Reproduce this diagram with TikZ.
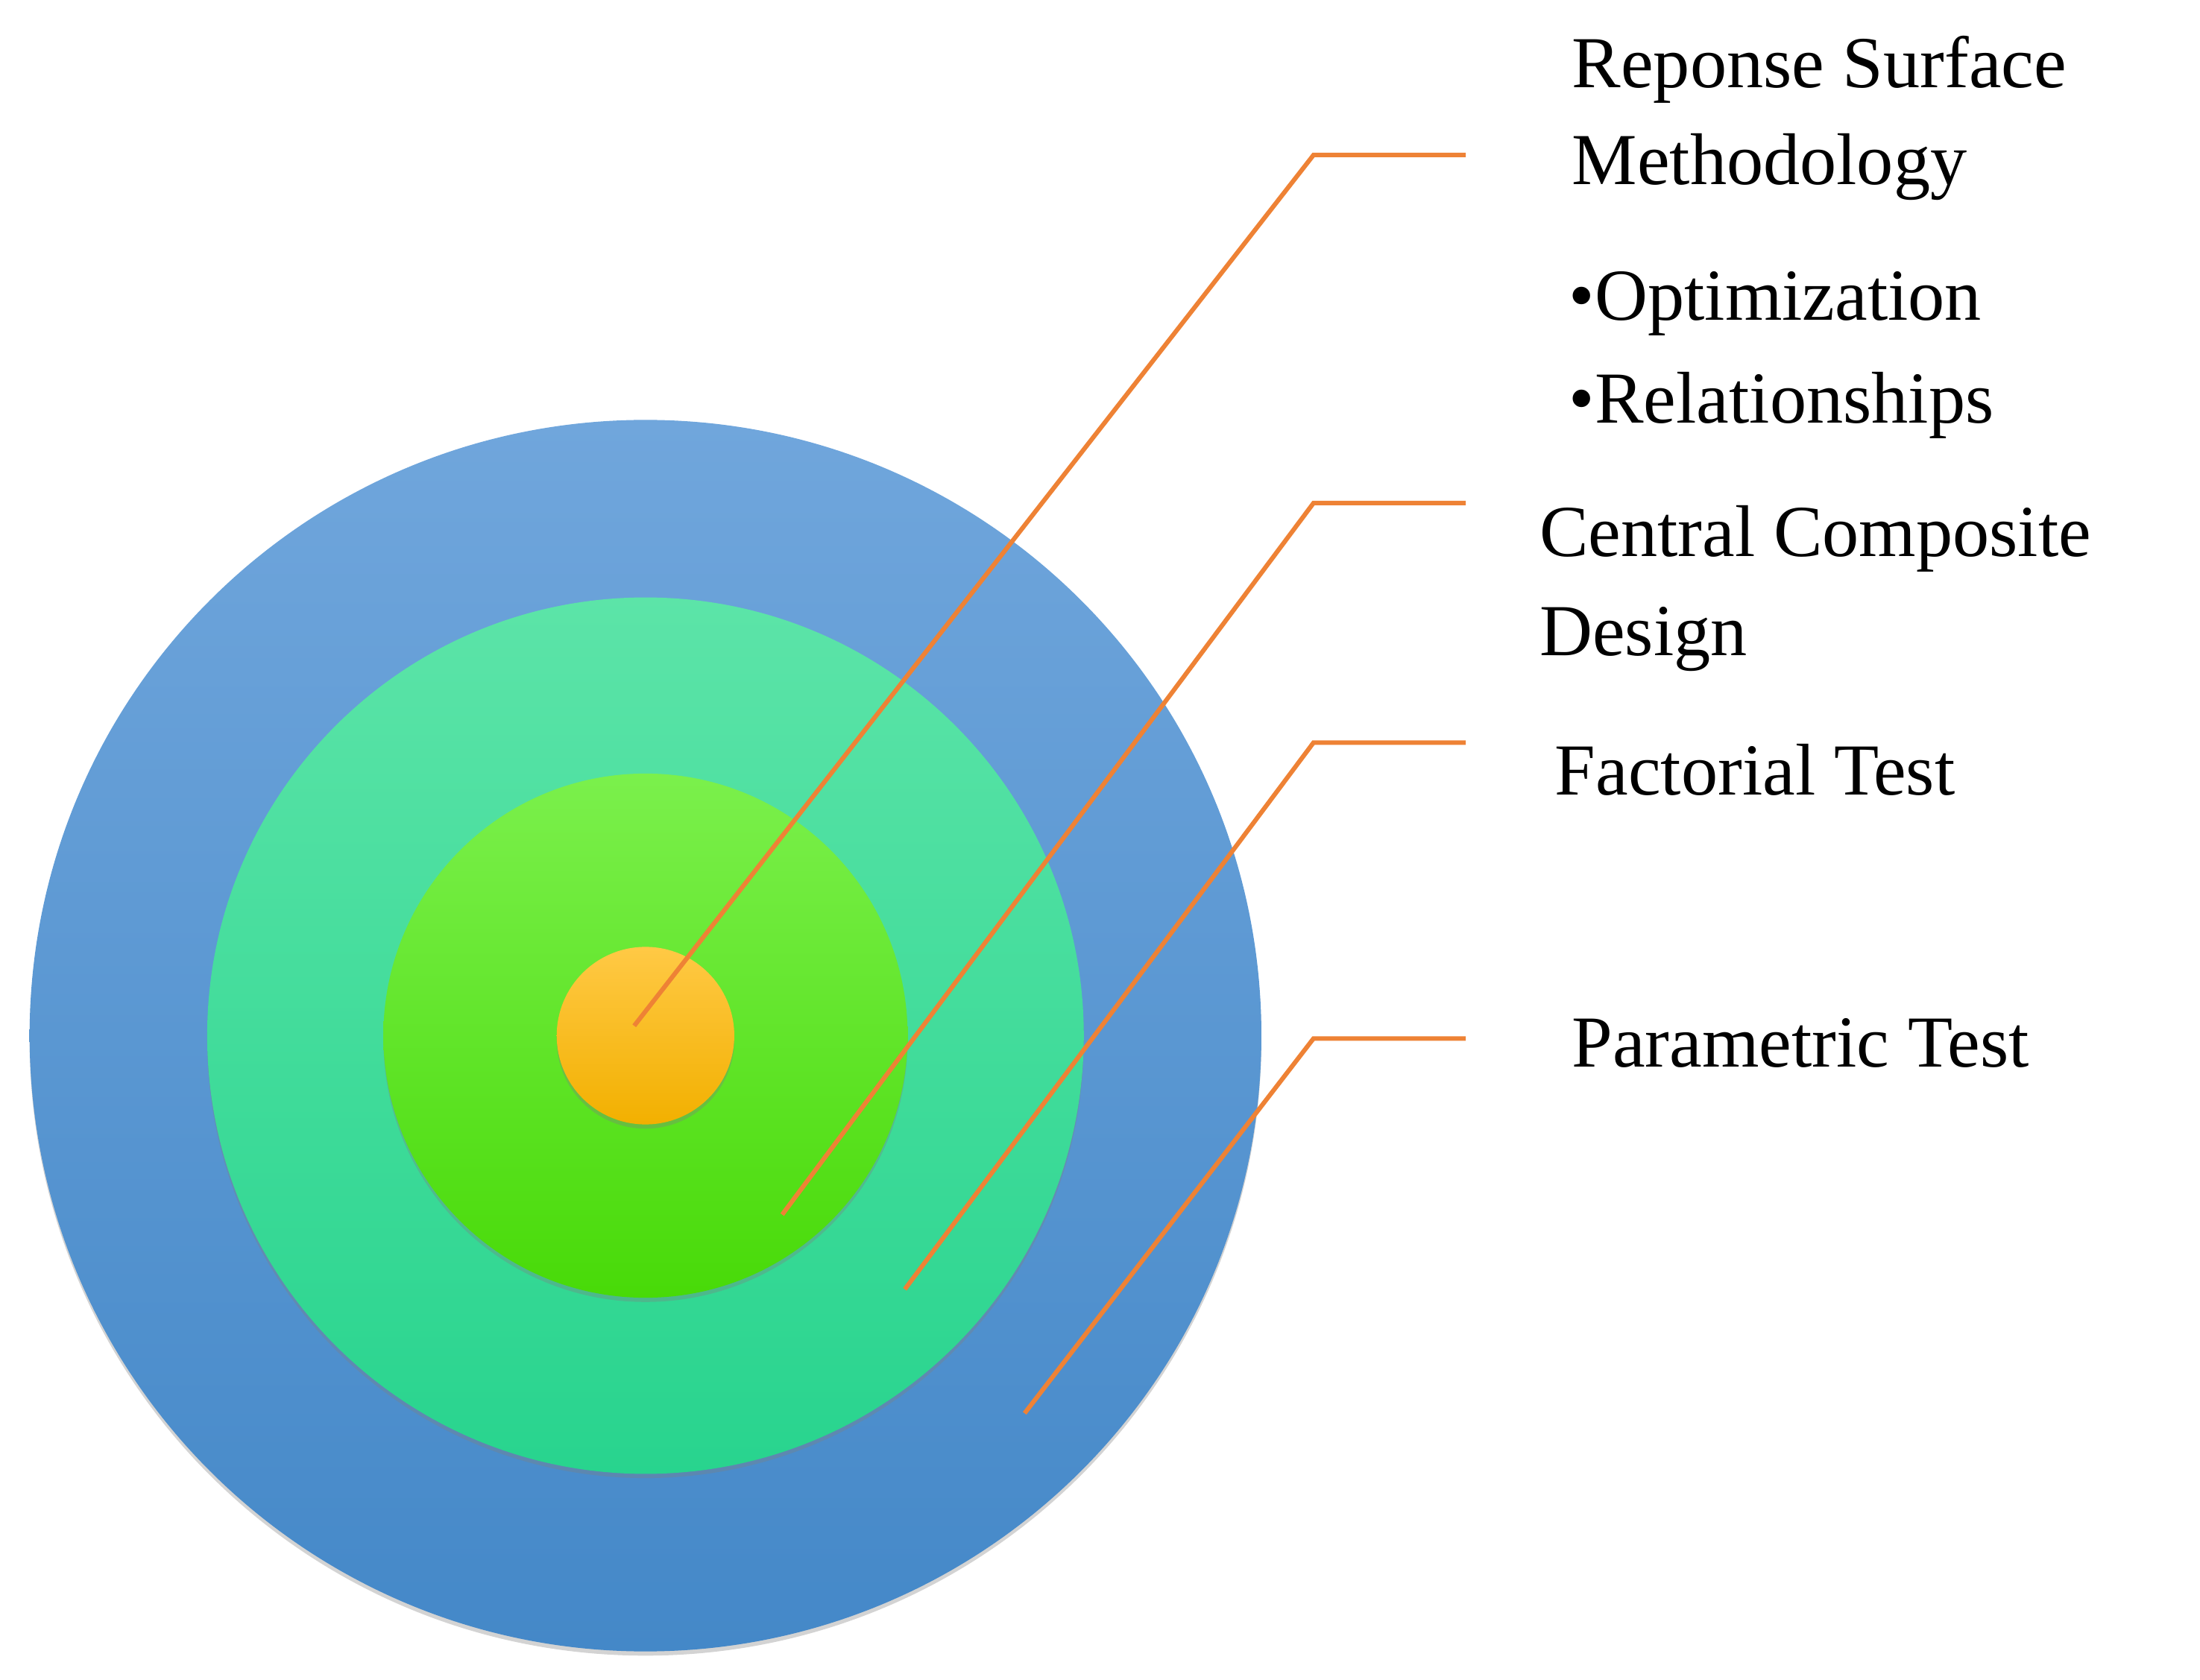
\documentclass[tikz,border=0pt]{standalone}
\usepackage{fontspec}
\setmainfont{Liberation Serif}
\usetikzlibrary{shadows}
\definecolor{bA}{HTML}{70A6DC}\definecolor{bB}{HTML}{4488C8}
\definecolor{gA}{HTML}{5CE4A8}\definecolor{gB}{HTML}{28D48E}
\definecolor{lA}{HTML}{7BF04C}\definecolor{lB}{HTML}{48DA08}
\definecolor{oA}{HTML}{FFC945}\definecolor{oB}{HTML}{F2B000}
\definecolor{ln}{HTML}{EE8235}
\tikzset{ring/.style={circle,inner sep=0pt,drop shadow={shadow xshift=0pt,shadow yshift=-1.5pt,opacity=0.35}},
 lbl/.style={anchor=base west,inner sep=0pt,font=\fontsize{26}{30}\selectfont},
 conn/.style={ln,line width=1.6pt}}
\begin{document}
\begin{tikzpicture}[x=0.5pt,y=-0.5pt]
\useasboundingbox (0,0) rectangle (1561,1192);
\node[ring,minimum size=437pt,top color=bA,bottom color=bB] (c1) at (458,735) {};
\node[ring,minimum size=311pt,top color=gA,bottom color=gB] (c2) at (458,735) {};
\node[ring,minimum size=186pt,top color=lA,bottom color=lB] (c3) at (458,735) {};
\node[ring,minimum size=63pt,top color=oA,bottom color=oB] (c4) at (458,735) {};
\coordinate (p1) at (450,728); \coordinate (k1) at (932,110); \coordinate (e1) at (1040,110);
\coordinate (p2) at (555,862); \coordinate (k2) at (932,357); \coordinate (e2) at (1040,357);
\coordinate (p3) at (642,915); \coordinate (k3) at (932,527); \coordinate (e3) at (1040,527);
\coordinate (p4) at (727,1003); \coordinate (k4) at (932,737); \coordinate (e4) at (1040,737);
\draw[conn] (p1)--(k1)--(e1);
\draw[conn] (p2)--(k2)--(e2);
\draw[conn] (p3)--(k3)--(e3);
\draw[conn] (p4)--(k4)--(e4);
\node[lbl] (t1) at (1115,62) {Reponse Surface};
\node[lbl] (t2) at (1115,131) {Methodology};
\node[lbl] (t3) at (1113,227) {•Optimization};
\node[lbl] (t4) at (1113,300) {•Relationships};
\node[lbl] (t5) at (1092,395) {Central Composite};
\node[lbl] (t6) at (1092,465) {Design};
\node[lbl] (t7) at (1103,564) {Factorial Test};
\node[lbl] (t8) at (1115,757) {Parametric Test};
\end{tikzpicture}
\end{document}
